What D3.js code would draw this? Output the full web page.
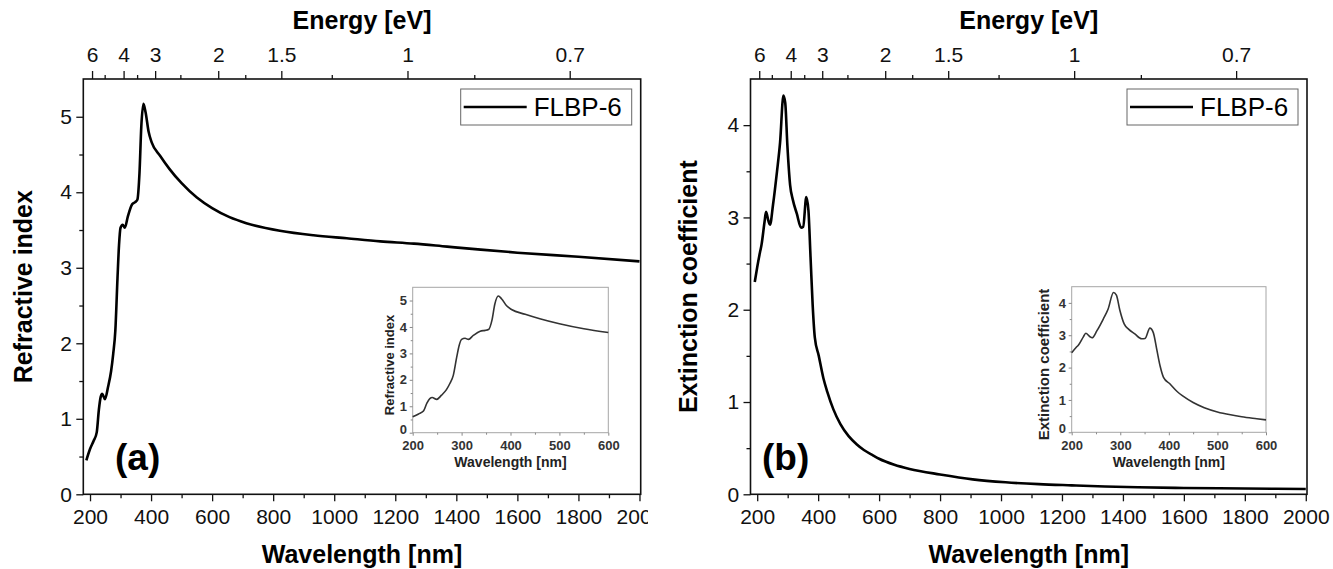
<!DOCTYPE html>
<html>
<head>
<meta charset="utf-8">
<script src="https://cdn.jsdelivr.net/npm/d3@7"></script>
<style>
  body { margin: 0; background: #fff; }
  svg { display: block; font-family: "Liberation Sans", Arial, sans-serif; }
</style>
</head>
<body>
<svg id="chart" width="1333" height="569"></svg>
<script>
// refractive index n (panel a)
const nWavelength = [188, 200, 212, 222, 229, 235, 240, 249, 259, 269, 276, 283, 290, 295, 300, 307, 314, 324, 338, 348, 355,
  362, 368, 375, 382, 392, 402, 430, 460, 500, 550, 600, 657, 712, 822, 932, 1041, 1151, 1261, 1370, 1480, 1600, 1800, 2000];
const nValues = [0.45, 0.6, 0.71, 0.82, 1.12, 1.29, 1.33, 1.26, 1.42, 1.63, 1.86, 2.17, 2.86, 3.30, 3.53, 3.57, 3.53, 3.68, 3.84, 3.87, 3.90,
  4.25, 4.87, 5.17, 5.06, 4.80, 4.66, 4.48, 4.31, 4.12, 3.93, 3.79, 3.67, 3.59, 3.49, 3.43, 3.39, 3.35, 3.32, 3.28, 3.24, 3.20, 3.145, 3.085];

// extinction coefficient k (panel b)
const kWavelength = [192, 200, 209, 214, 224, 229, 237, 242, 252, 265, 275, 286, 292, 299, 308, 317, 330, 344, 351, 361, 368,
  375, 382, 389, 402, 417, 430, 450, 473, 500, 527, 550, 581, 600, 650, 700, 800, 907, 1015, 1124, 1232, 1341, 1449, 1600, 1800, 2000];
const kValues = [2.30, 2.46, 2.62, 2.70, 2.95, 3.06, 2.96, 2.92, 3.14, 3.50, 3.81, 4.32, 4.24, 3.78, 3.35, 3.19, 3.04, 2.89, 2.90, 3.22, 3.08,
  2.57, 2.05, 1.70, 1.50, 1.26, 1.11, 0.92, 0.76, 0.63, 0.54, 0.48, 0.42, 0.385, 0.32, 0.275, 0.215, 0.162, 0.13, 0.11, 0.097, 0.085, 0.076, 0.068, 0.063, 0.058];

const wavelengthTicks = [200, 400, 600, 800, 1000, 1200, 1400, 1600, 1800, 2000];
const wavelengthMinor = [300, 500, 700, 900, 1100, 1300, 1500, 1700, 1900];
const energyTicks = [6, 4, 3, 2, 1.5, 1, 0.7];
const energyMinor = [5, 3.5, 2.5, 1.75, 1.25, 0.85];
const insetTicks = [200, 300, 400, 500, 600];
const insetMinor = [250, 350, 450, 550];

const HC = 1240; // eV*nm
const TOP = 79, BOTTOM = 494.3;

const panels = [
  { label: "(a)", left: 83.3, right: 640.7, clip: 648, yMax: 5.5, yTicks: d3.range(0, 6), yTitle: "Refractive index",
    titleX: 31.5, wl: nWavelength, val: nValues,
    inset: { left: 412.7, right: 608.3, top: 287.3, bottom: 432.7, titleX: 394, titleSize: 13 } },
  { label: "(b)", left: 750.5, right: 1307, clip: 1333, yMax: 4.5, yTicks: d3.range(0, 5), yTitle: "Extinction coefficient",
    titleX: 696.5, wl: kWavelength, val: kValues,
    inset: { left: 1071.7, right: 1266, top: 286.7, bottom: 432.3, titleX: 1049, titleSize: 15 } }
];

const svg = d3.select("#chart");

function styleAxis(g, size, weight, color) {
  g.select(".domain").remove();
  g.selectAll("line").attr("stroke", color).attr("stroke-width", weight);
  g.selectAll("text").attr("font-size", size).attr("fill", color).attr("font-family", "Liberation Sans, Arial, sans-serif");
  g.attr("font-family", null).attr("font-size", null);
}

panels.forEach((p, pi) => {
  svg.append("clipPath").attr("id", "clip" + pi)
    .append("rect").attr("x", pi === 0 ? 0 : 648).attr("y", 0).attr("width", p.clip - (pi === 0 ? 0 : 648)).attr("height", 569);

  const g = svg.append("g").attr("clip-path", `url(#clip${pi})`);
  const data = p.wl.map((w, i) => ({ w: w, v: p.val[i] }));

  const x = d3.scaleLinear().domain([178, 2004]).range([p.left, p.right]);
  const y = d3.scaleLinear().domain([0, p.yMax]).range([BOTTOM, TOP]);

  // bottom axis
  g.append("g").attr("transform", `translate(0,${BOTTOM})`)
    .call(d3.axisBottom(x).tickValues(wavelengthTicks).tickSize(7).tickPadding(7.7).tickFormat(d3.format("d")))
    .call(a => styleAxis(a, 21, 1.3, "#111"));
  g.append("g").attr("transform", `translate(0,${BOTTOM})`)
    .call(d3.axisBottom(x).tickValues(wavelengthMinor).tickSize(4).tickFormat(""))
    .call(a => styleAxis(a, 21, 1.3, "#111"));

  // left axis
  g.append("g").attr("transform", `translate(${p.left},0)`)
    .call(d3.axisLeft(y).tickValues(p.yTicks).tickSize(7).tickPadding(4.3).tickFormat(d3.format("d")))
    .call(a => styleAxis(a, 21, 1.3, "#111"));
  g.append("g").attr("transform", `translate(${p.left},0)`)
    .call(d3.axisLeft(y).tickValues(p.yTicks.map(t => t + 0.5).filter(t => t < p.yMax)).tickSize(4).tickFormat(""))
    .call(a => styleAxis(a, 21, 1.3, "#111"));

  // top energy axis
  g.append("g").attr("transform", `translate(0,${TOP})`)
    .call(d3.axisTop(x).tickValues(energyTicks.map(e => HC / e)).tickSize(8).tickPadding(9.3)
      .tickFormat((d, i) => energyTicks[i]))
    .call(a => styleAxis(a, 21, 1.3, "#111"));
  g.append("g").attr("transform", `translate(0,${TOP})`)
    .call(d3.axisTop(x).tickValues(energyMinor.map(e => HC / e)).tickSize(4).tickFormat(""))
    .call(a => styleAxis(a, 21, 1.3, "#111"));

  // frame
  g.append("rect")
    .attr("x", p.left).attr("y", TOP)
    .attr("width", p.right - p.left).attr("height", BOTTOM - TOP)
    .attr("fill", "none").attr("stroke", "#111").attr("stroke-width", 1.6);

  // main curve
  g.append("path").datum(data)
    .attr("fill", "none").attr("stroke", "#000").attr("stroke-width", 2.6)
    .attr("stroke-linejoin", "round")
    .attr("d", d3.line().x(d => x(d.w)).y(d => y(d.v)).curve(d3.curveMonotoneX));

  // titles
  const cx = (p.left + p.right) / 2;
  g.append("text").attr("x", cx).attr("y", 29).attr("text-anchor", "middle")
    .attr("font-size", 25).attr("font-weight", "bold").text("Energy [eV]");
  g.append("text").attr("x", cx).attr("y", 563).attr("text-anchor", "middle")
    .attr("font-size", 25).attr("font-weight", "bold").text("Wavelength [nm]");
  g.append("text").attr("transform", `translate(${p.titleX},${(TOP + BOTTOM) / 2}) rotate(-90)`)
    .attr("text-anchor", "middle").attr("font-size", 25).attr("font-weight", "bold").text(p.yTitle);

  // panel label
  g.append("text").attr("x", p.left + (pi === 0 ? 31.7 : 11.5)).attr("y", 470)
    .attr("font-size", 37).attr("font-weight", "bold").text(p.label);

  // legend
  const lw = 171, lx = p.right - 9 - lw, ly = 89;
  g.append("rect").attr("x", lx).attr("y", ly).attr("width", lw).attr("height", 36)
    .attr("fill", "#fff").attr("stroke", "#666").attr("stroke-width", 1);
  g.append("line").attr("x1", lx + 3).attr("x2", lx + 66).attr("y1", ly + 18).attr("y2", ly + 18)
    .attr("stroke", "#000").attr("stroke-width", 2.6);
  g.append("text").attr("x", lx + 73).attr("y", ly + 27).attr("font-size", 26).text("FLBP-6");

  // inset
  const ins = p.inset;
  const ix = d3.scaleLinear().domain([200, 600]).range([ins.left, ins.right]);
  const iy = d3.scaleLinear().domain([0, p.yMax]).range([ins.bottom, ins.top]);
  const ig = g.append("g");
  ig.append("rect").attr("x", ins.left).attr("y", ins.top)
    .attr("width", ins.right - ins.left).attr("height", ins.bottom - ins.top)
    .attr("fill", "#fff").attr("stroke", "#a6a6a6").attr("stroke-width", 1);
  ig.append("g").attr("transform", `translate(0,${ins.bottom})`)
    .call(d3.axisBottom(ix).tickValues(insetTicks).tickSize(3).tickPadding(5.5))
    .call(a => styleAxis(a, 13, 1, "#333"))
    .call(a => a.selectAll("text").attr("font-weight", "bold"));
  ig.append("g").attr("transform", `translate(0,${ins.bottom})`)
    .call(d3.axisBottom(ix).tickValues(insetMinor).tickSize(2).tickFormat(""))
    .call(a => styleAxis(a, 13, 1, "#888"));
  ig.append("g").attr("transform", `translate(${ins.left},0)`)
    .call(d3.axisLeft(iy).tickValues(p.yTicks).tickSize(3).tickPadding(2.7).tickFormat(d3.format("d")))
    .call(a => styleAxis(a, 13, 1, "#333"))
    .call(a => a.selectAll("text").attr("font-weight", "bold"))
    .call(a => a.selectAll(".tick text").filter(d => d === 0).attr("dy", "0.05em"));
  ig.append("g").attr("transform", `translate(${ins.left},0)`)
    .call(d3.axisLeft(iy).tickValues(p.yTicks.map(t => t + 0.5).filter(t => t < p.yMax)).tickSize(2).tickFormat(""))
    .call(a => styleAxis(a, 13, 1, "#888"));
  ig.selectAll(".tick line").attr("stroke", "#888");

  ig.append("path").datum(data.filter(d => d.w >= 200 && d.w <= 600))
    .attr("fill", "none").attr("stroke", "#333").attr("stroke-width", 1.6)
    .attr("d", d3.line().x(d => ix(d.w)).y(d => iy(d.v)).curve(d3.curveMonotoneX));

  ig.append("text").attr("x", (ins.left + ins.right) / 2).attr("y", 467).attr("text-anchor", "middle")
    .attr("font-size", 14).attr("font-weight", "bold").attr("fill", "#222").text("Wavelength [nm]");
  ig.append("text").attr("transform", `translate(${ins.titleX},${(ins.top + ins.bottom) / 2 + 5}) rotate(-90)`)
    .attr("text-anchor", "middle").attr("font-size", ins.titleSize).attr("font-weight", "bold")
    .attr("fill", "#222").text(p.yTitle);
});
</script>
</body>
</html>
